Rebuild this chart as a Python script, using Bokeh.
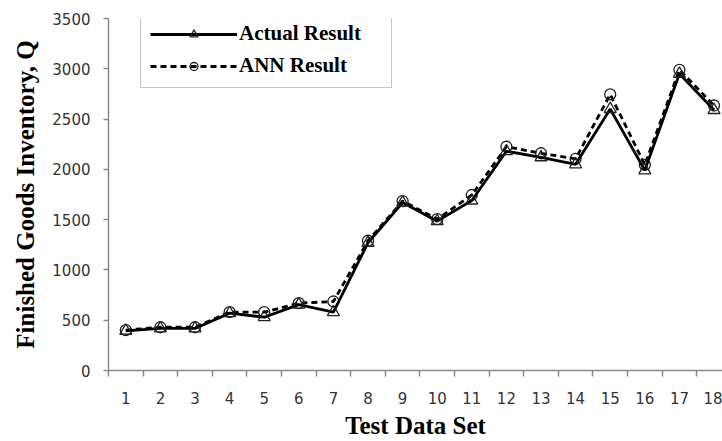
from bokeh.plotting import figure
from bokeh.models import Legend, LegendItem, FixedTicker, Range1d, ColumnDataSource
from bokeh.embed import file_html
from bokeh.resources import INLINE

test_sets = list(range(1, 19))
actual = [395, 418, 418, 570, 530, 655, 580, 1270, 1670, 1485, 1690, 2180, 2120, 2050, 2600, 1990, 2950, 2590]
ann = [402, 430, 430, 580, 580, 670, 686, 1290, 1685, 1505, 1745, 2225, 2160, 2105, 2745, 2045, 2990, 2635]
y_ticks = [0, 500, 1000, 1500, 2000, 2500, 3000, 3500]

src = ColumnDataSource(dict(x=test_sets, actual=actual, ann=ann))

p = figure(width=722, height=441, output_backend="svg", toolbar_location=None,
           x_range=Range1d(0.5, 18.245), y_range=Range1d(0, 3500),
           min_border_top=18, min_border_left=108, min_border_right=0, min_border_bottom=0)
p.outline_line_color = None
p.grid.visible = False
p.background_fill_color = "white"

l_ann = p.line("x", "ann", source=src, line_color="black", line_width=2.8, line_dash="6 4")
s_ann = p.scatter("x", "ann", source=src, marker="circle", size=11, fill_color=None,
                  line_color="#222222", line_width=1.3)
l_act = p.line("x", "actual", source=src, line_color="black", line_width=2.8)
s_act = p.scatter("x", "actual", source=src, marker="triangle", size=12, fill_color=None,
                  line_color="#222222", line_width=1.3)

axis_gray = "#8a8a8a"
tick_font = "DejaVu Sans"

# x axis
xa = p.xaxis[0]
xa.ticker = FixedTicker(ticks=test_sets,
                        minor_ticks=[t - 0.5 for t in test_sets] + [test_sets[-1] + 0.5])
xa.axis_line_color = axis_gray
xa.axis_line_width = 1.5
xa.major_tick_line_color = None
xa.major_tick_out = 0
xa.major_tick_in = 0
xa.minor_tick_line_color = axis_gray
xa.minor_tick_line_width = 1.5
xa.minor_tick_out = 6
xa.minor_tick_in = 0
xa.major_label_text_font = tick_font
xa.major_label_text_font_size = "15px"
xa.major_label_text_color = "#333333"
xa.major_label_standoff = 15
xa.axis_label = "Test Data Set"
xa.axis_label_text_font = "Liberation Serif"
xa.axis_label_text_font_style = "bold"
xa.axis_label_text_font_size = "25px"
xa.axis_label_text_color = "black"
xa.axis_label_standoff = 5

# y axis
ya = p.yaxis[0]
ya.ticker = FixedTicker(ticks=y_ticks)
ya.axis_line_color = axis_gray
ya.axis_line_width = 1.5
ya.major_tick_line_color = axis_gray
ya.major_tick_line_width = 1.5
ya.major_tick_out = 5
ya.major_tick_in = 0
ya.minor_tick_line_color = None
ya.major_label_text_font = tick_font
ya.major_label_text_font_size = "15px"
ya.major_label_text_color = "#333333"
ya.major_label_standoff = 13
ya.axis_label = "Finished Goods Inventory, Q"
ya.axis_label_text_font = "Liberation Serif"
ya.axis_label_text_font_style = "bold"
ya.axis_label_text_font_size = "25px"
ya.axis_label_text_color = "black"
ya.axis_label_standoff = 10

legend = Legend(items=[LegendItem(label="Actual Result", renderers=[l_act, s_act]),
                       LegendItem(label="ANN Result", renderers=[l_ann, s_ann])],
                location=(32, 282))
legend.label_text_font = "Liberation Serif"
legend.label_text_font_style = "bold"
legend.label_text_font_size = "21px"
legend.label_text_color = "black"
legend.glyph_width = 87
legend.glyph_height = 20
legend.label_standoff = 2
legend.label_width = 143
legend.padding = 9
legend.spacing = 7
legend.margin = 0
legend.border_line_color = "#8c8c8c"
legend.border_line_width = 1.5
legend.background_fill_color = "white"
legend.background_fill_alpha = 1
p.add_layout(legend, "center")

open("out.html", "w").write(file_html(p, INLINE))
